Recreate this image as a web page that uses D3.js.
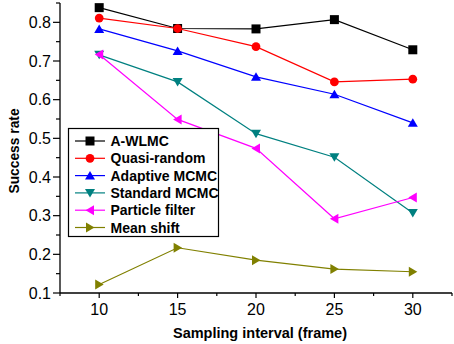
<!DOCTYPE html>
<html>
<head>
<meta charset="utf-8">
<script src="https://cdn.jsdelivr.net/npm/d3@7"></script>
<style>
  body { margin: 0; background: #fff; }
  svg { display: block; font-family: "Liberation Sans", Arial, sans-serif; }
</style>
</head>
<body>
<div id="chart"></div>
<script>
const intervals = [10, 15, 20, 25, 30]
const seriesNames = ["A-WLMC", "Quasi-random", "Adaptive MCMC", "Standard MCMC", "Particle filter", "Mean shift"]
const awlmc = [0.838, 0.784, 0.783, 0.807, 0.729]
const quasiRandom = [0.811, 0.784, 0.737, 0.646, 0.653]
const adaptiveMcmc = [0.783, 0.726, 0.659, 0.614, 0.540]
const standardMcmc = [0.716, 0.646, 0.512, 0.451, 0.307]
const particleFilter = [0.717, 0.549, 0.474, 0.292, 0.347]
const meanShift = [0.122, 0.217, 0.185, 0.162, 0.155]
const xTicks = [10, 15, 20, 25, 30]
const yTicks = [0.1, 0.2, 0.3, 0.4, 0.5, 0.6, 0.7, 0.8]

const values = [awlmc, quasiRandom, adaptiveMcmc, standardMcmc, particleFilter, meanShift]
const colors = ["#000000", "#ff0000", "#0000ff", "#008080", "#ff00ff", "#808000"]
const shapes = ["square", "circle", "up", "down", "left", "right"]

const width = 454, height = 344
const margin = { top: 3, right: 2, bottom: 51, left: 60 }
const innerW = width - margin.left - margin.right
const innerH = height - margin.top - margin.bottom

const svg = d3.select("#chart").append("svg")
  .attr("width", width)
  .attr("height", height)

const g = svg.append("g")
  .attr("transform", "translate(" + margin.left + "," + margin.top + ")")

const x = d3.scaleLinear().domain([7.5, 32.5]).range([0, innerW])
const y = d3.scaleLinear().domain([0.1, 0.85]).range([innerH, 0])

// marker path centered at 0,0
function markerPath(shape) {
  const s = 4.5
  if (shape === "square") return `M${-s},${-s}H${s}V${s}H${-s}Z`
  if (shape === "circle") return d3.symbol(d3.symbolCircle, 60)()
  if (shape === "up") return `M0,${-s}L${s + 0.5},${s - 0.5}L${-s - 0.5},${s - 0.5}Z`
  if (shape === "down") return `M0,${s}L${s + 0.5},${-s + 0.5}L${-s - 0.5},${-s + 0.5}Z`
  if (shape === "left") return `M${-s},0L${s - 0.5},${-s - 0.5}L${s - 0.5},${s + 0.5}Z`
  return `M${s},0L${-s + 0.5},${-s - 0.5}L${-s + 0.5},${s + 0.5}Z`
}

// axes
const xAxis = g.append("g").attr("transform", "translate(0," + innerH + ")")
xAxis.append("line").attr("x1", 0).attr("x2", innerW).attr("stroke", "#000").attr("stroke-width", 1.3)
d3.range(7.5, 32.6, 2.5).forEach(v => {
  const major = v % 5 === 0
  xAxis.append("line")
    .attr("x1", x(v)).attr("x2", x(v))
    .attr("y1", 0).attr("y2", major ? 5 : 3)
    .attr("stroke", "#000").attr("stroke-width", 1.2)
})
xAxis.selectAll("text.tick").data(xTicks).join("text")
  .attr("x", d => x(d)).attr("y", 22)
  .attr("text-anchor", "middle")
  .attr("font-size", 16)
  .text(d => d)

const yAxis = g.append("g")
yAxis.append("line").attr("y1", 0).attr("y2", innerH).attr("stroke", "#000").attr("stroke-width", 1.3)
d3.range(0.1, 0.851, 0.05).forEach(v => {
  const major = Math.abs(Math.round(v * 10) - v * 10) < 1e-6
  yAxis.append("line")
    .attr("x1", major ? -7 : -4).attr("x2", 0)
    .attr("y1", y(v)).attr("y2", y(v))
    .attr("stroke", "#000").attr("stroke-width", 1.2)
})
yAxis.selectAll("text.tick").data(yTicks).join("text")
  .attr("x", -9).attr("y", d => y(d))
  .attr("dy", "0.36em")
  .attr("text-anchor", "end")
  .attr("font-size", 16)
  .text(d => d3.format(".1f")(d))

// axis titles
svg.append("text")
  .attr("x", 260).attr("y", 338)
  .attr("text-anchor", "middle")
  .attr("font-size", 14.5).attr("font-weight", "bold")
  .text("Sampling interval (frame)")

svg.append("text")
  .attr("transform", "translate(19,151) rotate(-90)")
  .attr("text-anchor", "middle")
  .attr("font-size", 13.8).attr("font-weight", "bold")
  .text("Success rate")

// series
const line = d3.line().x((d, i) => x(intervals[i])).y(d => y(d))
values.forEach((vals, k) => {
  const sg = g.append("g")
  sg.append("path")
    .datum(vals)
    .attr("fill", "none")
    .attr("stroke", colors[k])
    .attr("stroke-width", 1.2)
    .attr("d", line)
  sg.selectAll("path.m").data(vals).join("path")
    .attr("class", "m")
    .attr("transform", (d, i) => "translate(" + x(intervals[i]) + "," + y(d) + ")")
    .attr("d", markerPath(shapes[k]))
    .attr("fill", colors[k])
})

// legend
const legend = svg.append("g").attr("transform", "translate(68.5,128.5)")
legend.append("rect")
  .attr("width", 150).attr("height", 108)
  .attr("fill", "#fff").attr("stroke", "#000").attr("stroke-width", 1.2)
seriesNames.forEach((name, k) => {
  const ly = 12.5 + k * 17.3
  legend.append("line")
    .attr("x1", 6.5).attr("x2", 36.5).attr("y1", ly).attr("y2", ly)
    .attr("stroke", colors[k]).attr("stroke-width", 1.2)
  legend.append("path")
    .attr("transform", "translate(21.5," + ly + ")")
    .attr("d", markerPath(shapes[k]))
    .attr("fill", colors[k])
  legend.append("text")
    .attr("x", 42).attr("y", ly).attr("dy", "0.36em")
    .attr("font-size", 14).attr("font-weight", "bold")
    .text(name)
})
</script>
</body>
</html>
